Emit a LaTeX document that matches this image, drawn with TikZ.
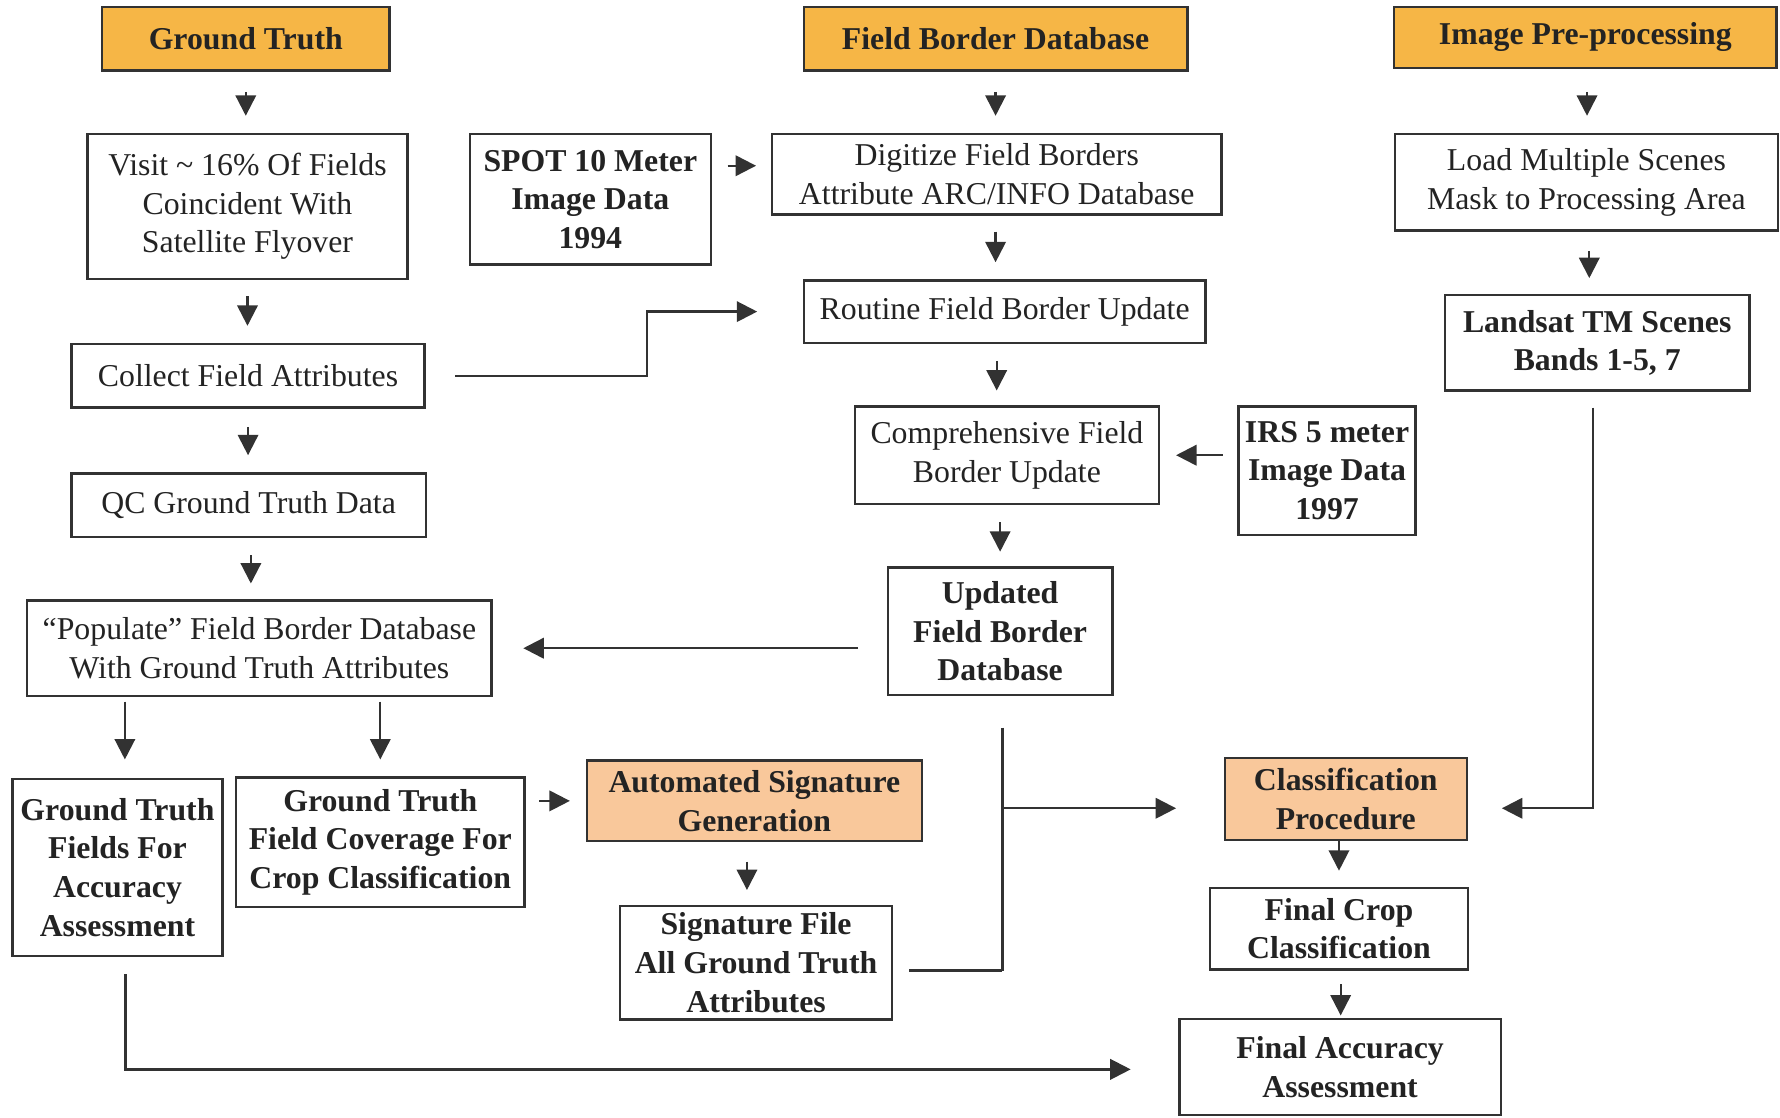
\documentclass[tikz,border=0pt]{standalone}
\usepackage{fontspec}
\setmainfont{Liberation Serif}
\usetikzlibrary{arrows.meta,calc}
\definecolor{lineC}{RGB}{50,50,50}
\definecolor{textC}{RGB}{35,35,35}
\definecolor{hdrC}{RGB}{246,182,70}
\definecolor{hlC}{RGB}{249,200,155}
\tikzset{
  box/.style={draw=lineC, line width=1pt, fill=white, text=textC, align=center, inner sep=0pt,
    font=\fontsize{14}{17}\selectfont},
  bbox/.style={box, font=\fontsize{14}{17}\selectfont\bfseries},
  hdr/.style={bbox, fill=hdrC},
  hl/.style={bbox, fill=hlC},
  arr/.style={draw=lineC, line width=1pt, -{Triangle[length=9pt,width=9pt]}},
  ln/.style={draw=lineC, line width=1pt},
}
\begin{document}
\begin{tikzpicture}[x=0.5pt,y=-0.5pt]
\useasboundingbox (0,0) rectangle (1568,984);
% headers
\node[hdr, minimum width=126.5pt, minimum height=28pt] (gt) at (216.5,34) {Ground Truth};
\node[hdr, minimum width=169pt, minimum height=28pt] (fbd) at (877,34) {Field Border Database};
\node[hdr, minimum width=168.5pt, minimum height=27pt] (ipp) at (1396.5,33) {Image Pre-processing};
% row 2
\node[box, minimum width=141pt, minimum height=64pt] (visit) at (218,182) {Visit \textasciitilde{} 16\% Of Fields\\Coincident With\\Satellite Flyover};
\node[bbox, minimum width=106pt, minimum height=57.5pt] (spot) at (520,175.5) {SPOT 10 Meter\\Image Data\\1994};
\node[box, minimum width=198pt, minimum height=35.5pt] (digit) at (878,153.5) {Digitize Field Borders\\Attribute ARC/INFO Database};
\node[box, minimum width=168.5pt, minimum height=42.5pt] (load) at (1397.5,160.5) {Load Multiple Scenes\\Mask to Processing Area};
% row 3
\node[box, minimum width=155.5pt, minimum height=28pt] (collect) at (218.5,331) {Collect Field Attributes};
\node[box, minimum width=177pt, minimum height=27.5pt] (routine) at (885,274.5) {Routine Field Border Update};
\node[bbox, minimum width=134pt, minimum height=42pt] (landsat) at (1407,302) {Landsat TM Scenes\\Bands 1-5, 7};
% row 4
\node[box, minimum width=156pt, minimum height=28pt] (qc) at (219,445) {QC Ground Truth Data};
\node[box, minimum width=134pt, minimum height=43pt] (comp) at (887,401) {Comprehensive Field\\Border Update};
\node[bbox, minimum width=78pt, minimum height=56.5pt] (irs) at (1169,414.5) {IRS 5 meter\\Image Data\\1997};
% row 5
\node[box, minimum width=204.5pt, minimum height=42pt] (pop) at (228.5,571) {“Populate” Field Border Database\\With Ground Truth Attributes};
\node[bbox, minimum width=99pt, minimum height=56pt] (upd) at (881,556) {Updated\\Field Border\\Database};
% row 6
\node[bbox, minimum width=92.5pt, minimum height=78pt] (gtf) at (103.5,764) {Ground Truth\\Fields For\\Accuracy\\Assessment};
\node[bbox, minimum width=127pt, minimum height=57pt] (gtc) at (335,742) {Ground Truth\\Field Coverage For\\Crop Classification};
\node[hl, minimum width=147.5pt, minimum height=35.5pt] (asg) at (664.5,705.5) {Automated Signature\\Generation};
\node[bbox, minimum width=120pt, minimum height=50pt] (sig) at (666,848) {Signature File\\All Ground Truth\\Attributes};
\node[hl, minimum width=106.5pt, minimum height=36pt] (cp) at (1185.5,704) {Classification\\Procedure};
\node[bbox, minimum width=113.5pt, minimum height=36pt] (fcc) at (1179.5,818) {Final Crop\\Classification};
\node[bbox, minimum width=141.5pt, minimum height=42.5pt] (fa) at (1180.5,940) {Final Accuracy\\Assessment};

% left column arrows
\draw[arr, shorten <=9pt, shorten >=7.5pt] (gt.south) -- (gt.south |- visit.north);
\draw[arr, shorten <=7pt, shorten >=7.5pt] (visit.south) -- (visit.south |- collect.north);
\draw[arr, shorten <=8pt, shorten >=7.5pt] (collect.south) -- (collect.south |- qc.north);
\draw[arr, shorten <=7.5pt, shorten >=7pt] ([xshift=1pt]qc.south) -- ([xshift=1pt]qc.south |- pop.north);
\draw[arr, shorten <=2pt, shorten >=8pt] ([xshift=3.25pt]pop.south -| gtf.north) -- ([xshift=3.25pt]gtf.north);
\draw[arr, shorten <=2pt, shorten >=7.5pt] (pop.south -| gtc.north) -- (gtc.north);
\draw[arr, shorten <=6pt, shorten >=7pt] (gtc.east |- asg.west) -- (asg.west);
\draw[arr, shorten <=8.5pt, shorten >=6.5pt] ([xshift=-3.25pt]asg.south) -- ([xshift=-3.25pt]asg.south |- sig.north);
% middle column
\draw[arr, shorten <=7pt, shorten >=6.5pt] ($(spot.north east)+(0,29)$) -- ($(spot.north east -| digit.west)+(0,29)$);
\draw[arr, shorten <=9pt, shorten >=7.5pt] (fbd.south) -- (fbd.south |- digit.north);
\draw[arr, shorten <=7pt, shorten >=7.5pt] (digit.south -| fbd.south) -- (routine.north -| fbd.south);
\draw[arr, shorten <=13pt, shorten >=20pt] (collect.east) -| ($(collect.east)!0.587!(routine.west)$) |- (routine.west);
\draw[arr, shorten <=7.5pt, shorten >=6.5pt] ([xshift=0.5pt]routine.south -| fbd.south) -- ([xshift=0.5pt]comp.north -| fbd.south);
\draw[arr, shorten <=6.5pt, shorten >=7pt] (irs.west |- comp.east) -- (comp.east);
\draw[arr, shorten <=7.5pt, shorten >=6.5pt] (comp.south -| upd.north) -- (upd.north);
\draw[arr, shorten <=12.5pt, shorten >=13.5pt] (upd.west |- pop.east) -- (pop.east);
\coordinate (jb) at ($(upd.south |- sig.east)+(2,7)$);
\draw[ln, shorten <=14pt] ([xshift=1pt]upd.south) -- (jb);
\draw[ln, shorten <=7pt] ($(sig.east)+(0,7)$) -- (jb);
\draw[arr, shorten >=21pt] ($(jb |- cp.west)+(0,8)$) -- ($(cp.west)+(0,8)$);
% right column
\draw[arr, shorten <=10pt, shorten >=7.5pt] ([xshift=0.75pt]ipp.south) -- ([xshift=0.75pt]ipp.south |- load.north);
\draw[arr, shorten <=8.5pt, shorten >=7pt] ([xshift=1.25pt]load.south) -- ([xshift=1.25pt]load.south |- landsat.north);
\draw[arr, shorten <=7pt, shorten >=15pt] ([xshift=-2pt]landsat.south) |- ($(cp.east)+(0,8)$);
\draw[arr, shorten >=7pt] (cp.south -| fcc.north) -- (fcc.north);
\draw[arr, shorten <=6pt, shorten >=1pt] ([xshift=0.75pt]fcc.south) -- ([xshift=0.75pt]fcc.south |- fa.north);
\draw[arr, shorten <=7.5pt, shorten >=21pt] ([xshift=3.5pt]gtf.south) |- ($(fa.west)+(0,2)$);
\end{tikzpicture}
\end{document}
